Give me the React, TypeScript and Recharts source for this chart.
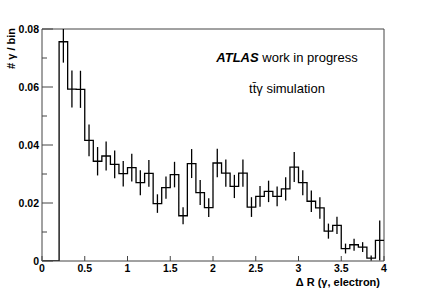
import { ComposedChart, Line, Scatter, ErrorBar, XAxis, YAxis, ReferenceLine, Label } from 'recharts';

// bin lower edges (width 0.1), starting at dR = 0.2
const binEdges = [
  0.2, 0.3, 0.4, 0.5, 0.6, 0.7, 0.8, 0.9, 1.0, 1.1,
  1.2, 1.3, 1.4, 1.5, 1.6, 1.7, 1.8, 1.9, 2.0, 2.1,
  2.2, 2.3, 2.4, 2.5, 2.6, 2.7, 2.8, 2.9, 3.0, 3.1,
  3.2, 3.3, 3.4, 3.5, 3.6, 3.7, 3.8, 3.9,
];
const binValues = [
  0.0756, 0.0593, 0.0592, 0.0416, 0.0344, 0.0362, 0.0333, 0.0301, 0.0322, 0.0270,
  0.0302, 0.0198, 0.0253, 0.0298, 0.0156, 0.0336, 0.0236, 0.0184, 0.0338, 0.0303,
  0.0257, 0.0303, 0.0186, 0.0223, 0.0240, 0.0223, 0.0249, 0.0324, 0.0270, 0.0206,
  0.0183, 0.0103, 0.0123, 0.0043, 0.0056, 0.0048, 0.0010, 0.0071,
];
// [down, up]; the first bar is cut by the frame at 0.08
const binErrors: [number, number][] = [
  [0.0072, 0.0044], [0.0064, 0.0064], [0.0064, 0.0064], [0.0055, 0.0055], [0.0049, 0.0049],
  [0.0050, 0.0050], [0.0048, 0.0048], [0.0044, 0.0044], [0.0048, 0.0048], [0.0043, 0.0043],
  [0.0046, 0.0046], [0.0032, 0.0032], [0.0038, 0.0038], [0.0044, 0.0044], [0.0029, 0.0029],
  [0.0050, 0.0050], [0.0043, 0.0043], [0.0032, 0.0032], [0.0049, 0.0049], [0.0047, 0.0047],
  [0.0040, 0.0040], [0.0047, 0.0047], [0.0034, 0.0034], [0.0036, 0.0036], [0.0037, 0.0037],
  [0.0034, 0.0034], [0.0040, 0.0040], [0.0052, 0.0052], [0.0043, 0.0043], [0.0037, 0.0037],
  [0.0037, 0.0037], [0.0026, 0.0026], [0.0030, 0.0030], [0.0017, 0.0017], [0.0021, 0.0021],
  [0.0017, 0.0017], [0.0009, 0.0009], [0.0069, 0.0069],
];
const binWidth = 0.1;
const xTicks = [0, 0.5, 1, 1.5, 2, 2.5, 3, 3.5, 4];
const yTicks = [0, 0.01, 0.02, 0.03, 0.04, 0.05, 0.06, 0.07, 0.08];

// step outline: empty below first edge, then one point per bin edge, closed at 4.0
const stepData = [
  { x: 0, y: 0 },
  ...binEdges.map((e, i) => ({ x: e, y: binValues[i] })),
  { x: binEdges[binEdges.length - 1] + binWidth, y: binValues[binValues.length - 1] },
];
const pointData = binEdges.map((e, i) => ({ x: e + binWidth / 2, y: binValues[i], err: binErrors[i] }));

const font = '"Liberation Sans", Arial, Helvetica, sans-serif';
const axisColor = '#444';

const XTick = (props: any) => {
  const { x, y, payload } = props;
  return (
    <g>
      <line x1={x} y1={y} x2={x} y2={y - 5} stroke={axisColor} strokeWidth={1} />
      <text x={x} y={y + 11} textAnchor="middle" fontFamily={font} fontWeight="bold" fontSize={10.5} fill="#000">
        {String(payload.value)}
      </text>
    </g>
  );
};

const YTick = (props: any) => {
  const { x, y, payload } = props;
  const major = Math.round(payload.value * 100) % 2 === 0;
  return (
    <g>
      <line x1={x} y1={y} x2={x + (major ? 11 : 5)} y2={y} stroke={axisColor} strokeWidth={1} />
      {major && (
        <text x={x - 3} y={y + 4} textAnchor="end" fontFamily={font} fontWeight="bold" fontSize={10.5} fill="#000">
          {payload.value === 0 ? '0' : payload.value.toFixed(2)}
        </text>
      )}
    </g>
  );
};

const YTitle = (props: any) => {
  const { viewBox } = props;
  const tx = viewBox.x + 13;
  const ty = viewBox.y - 1;
  return (
    <text x={tx} y={ty} transform={`rotate(-90 ${tx} ${ty})`} textAnchor="end"
      fontFamily={font} fontWeight="bold" fontSize={11} fill="#000">
      # γ / bin
    </text>
  );
};

export default function App() {
  return (
    <div style={{ position: 'absolute', left: 0, top: 0, width: 427, height: 290, background: '#fff' }}>
      <ComposedChart width={427} height={290} margin={{ top: 29, right: 43, left: 2, bottom: 0 }}>
        <XAxis
          type="number"
          dataKey="x"
          domain={[0, 4]}
          ticks={xTicks}
          interval={0}
          allowDataOverflow
          height={29}
          tickSize={0}
          tickMargin={0}
          tickLine={false}
          tick={<XTick />}
          axisLine={{ stroke: axisColor, strokeWidth: 1 }}
        >
          <Label value="Δ R (γ, electron)" position="insideBottomRight" offset={4}
            style={{ fontFamily: font, fontWeight: 'bold', fontSize: 11, fill: '#000' }} />
        </XAxis>
        <YAxis
          type="number"
          domain={[0, 0.08]}
          ticks={yTicks}
          interval={0}
          allowDataOverflow
          width={40}
          tickSize={0}
          tickMargin={0}
          tickLine={false}
          tick={<YTick />}
          axisLine={{ stroke: axisColor, strokeWidth: 1 }}
        >
          <Label content={<YTitle />} position="insideTopLeft" />
        </YAxis>
        <ReferenceLine y={0.08} stroke={axisColor} strokeWidth={1} />
        <ReferenceLine x={4} stroke={axisColor} strokeWidth={1} />
        <Line
          data={stepData}
          dataKey="y"
          type="stepAfter"
          stroke="#000"
          strokeWidth={1.3}
          dot={false}
          activeDot={false}
          isAnimationActive={false}
        />
        <Scatter data={pointData} dataKey="y" shape={() => <g />} isAnimationActive={false}>
          <ErrorBar dataKey="err" direction="y" width={0} stroke="#000" strokeWidth={1.3} isAnimationActive={false} />
        </Scatter>
      </ComposedChart>
      <div style={{ position: 'absolute', left: 0, top: 0, width: 427, height: 290, pointerEvents: 'none' }}>
        <div style={{ position: 'absolute', left: 187, width: 200, top: 50, textAlign: 'center', fontFamily: font, fontSize: 13, lineHeight: '16px', color: '#000' }}>
          <span style={{ fontWeight: 'bold', fontStyle: 'italic' }}>ATLAS</span> work in progress
        </div>
        <div style={{ position: 'absolute', left: 187, width: 200, top: 81, textAlign: 'center', fontFamily: font, fontSize: 13, lineHeight: '16px', color: '#000' }}>
          tt̄γ simulation
        </div>
      </div>
    </div>
  );
}
